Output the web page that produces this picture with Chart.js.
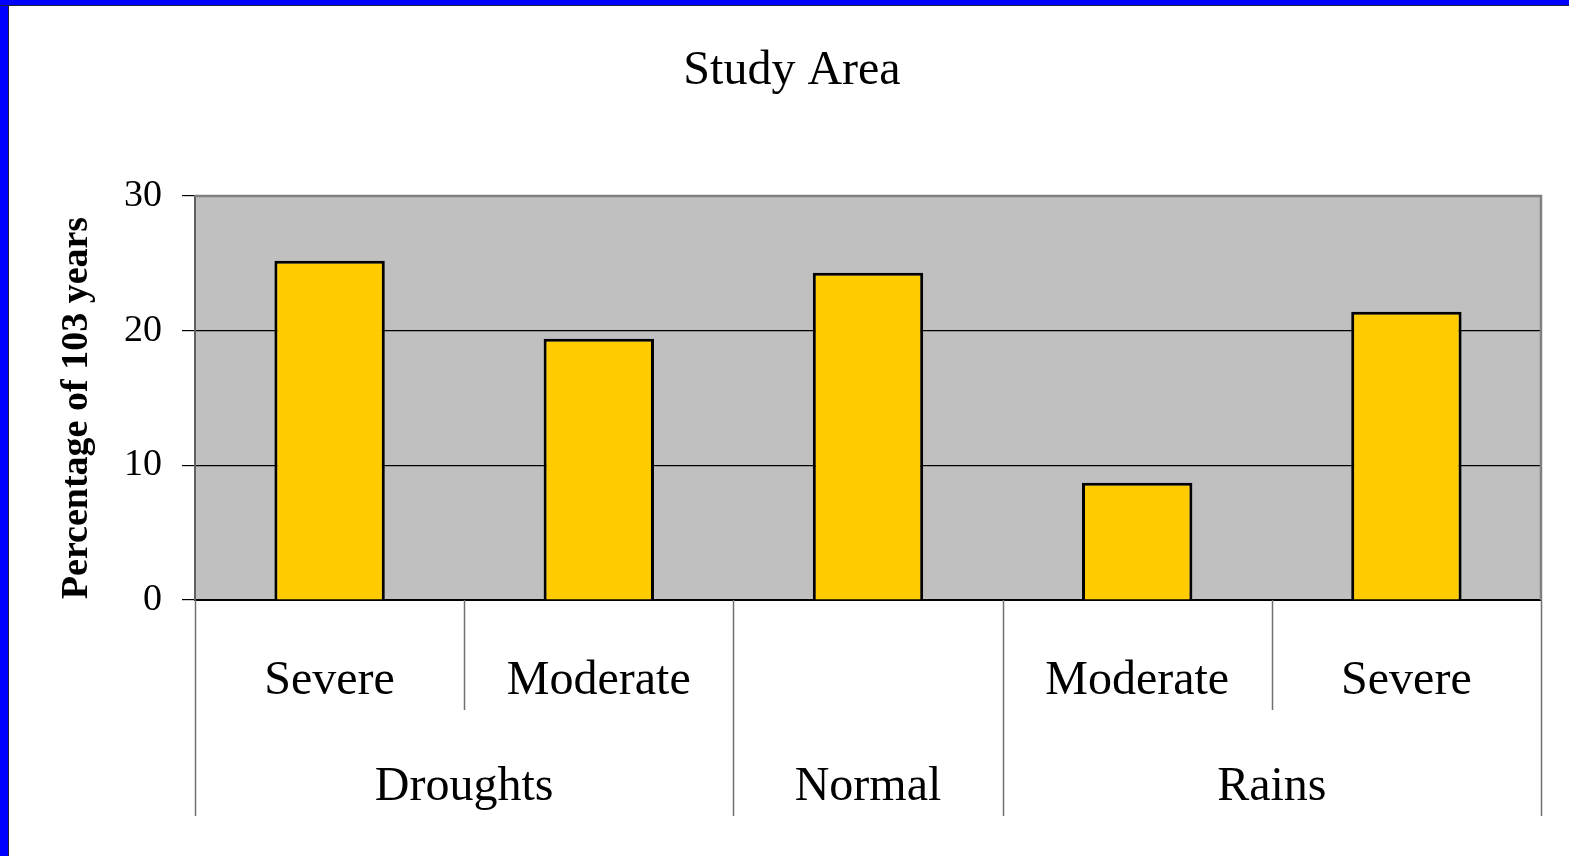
<!DOCTYPE html>
<html>
<head>
<meta charset="utf-8">
<script src="https://cdn.jsdelivr.net/npm/chart.js@4"></script>
<style>
    body { margin: 0; background: #fff; }
    #wrap { position: absolute; left: 0; top: 0; width: 1569px; height: 856px; }
    .edge { position: absolute; background: #0000ff; }
</style>
</head>
<body>
<div id="wrap"><canvas id="chart" width="1569" height="856"></canvas></div>
<div class="edge" style="left:0;top:0;width:8px;height:856px;border-right:1px solid #202040"></div>
<div class="edge" style="left:0;top:0;width:1569px;height:5px;border-bottom:1px solid #202040"></div>
<script>
// sub labels under each bar, and the groups they belong to
const subLabels = ['Severe', 'Moderate', '', 'Moderate', 'Severe'];
const groupNames = ['Droughts', 'Normal', 'Rains'];
const groupSpans = [2, 1, 2];
const percentages = [25.2, 19.4, 24.3, 8.7, 21.4];
const yTicks = [0, 10, 20, 30];

const serif = '"Liberation Serif", "Times New Roman", serif';

const multiLevelAxis = {
    id: 'multiLevelAxis',
    beforeDraw(chart) {
        const c = chart.ctx, a = chart.chartArea;
        c.save();
        c.fillStyle = '#c0c0c0';
        c.fillRect(a.left, a.top, a.right - a.left, a.bottom - a.top);
        c.restore();
    },
    afterDraw(chart) {
        const c = chart.ctx, a = chart.chartArea, x = chart.scales.x;
        c.save();
        // plot border top + right
        c.strokeStyle = '#808080';
        c.lineWidth = 2.5;
        c.beginPath();
        c.moveTo(a.left, a.top);
        c.lineTo(a.right, a.top);
        c.lineTo(a.right, a.bottom);
        c.stroke();

        const step = (a.right - a.left) / subLabels.length;
        c.strokeStyle = '#707070';
        c.lineWidth = 1.5;
        // group boundaries (long lines)
        let idx = 0;
        const bounds = [0];
        groupSpans.forEach(s => { idx += s; bounds.push(idx); });
        for (let i = 0; i <= subLabels.length; i++) {
            const px = Math.round(a.left + i * step) + 0.5;
            const long = bounds.includes(i);
            c.beginPath();
            c.moveTo(px, a.bottom);
            c.lineTo(px, long ? 816 : 710);
            c.stroke();
        }

        c.fillStyle = '#000';
        c.font = '48px ' + serif;
        c.textAlign = 'center';
        c.textBaseline = 'middle';
        subLabels.forEach((lab, i) => {
            if (lab) c.fillText(lab, x.getPixelForValue(i), 681);
        });
        groupNames.forEach((g, j) => {
            const l = a.left + bounds[j] * step, r = a.left + bounds[j + 1] * step;
            c.fillText(g, (l + r) / 2, 787);
        });

        // title
        c.font = '48px ' + serif;
        c.fillText('Study Area', 792, 71);

        // y title
        c.translate(77, 408);
        c.rotate(-Math.PI / 2);
        c.font = 'bold 38px ' + serif;
        c.fillText('Percentage of 103 years', 0, 0);
        c.restore();
    }
};

new Chart(document.getElementById('chart'), {
    type: 'bar',
    data: {
        labels: subLabels,
        datasets: [{
            data: percentages,
            backgroundColor: '#ffcc00',
            borderColor: '#000',
            borderWidth: 3,
            barPercentage: 0.41,
            categoryPercentage: 1
        }]
    },
    options: {
        responsive: false,
        animation: false,
        layout: { padding: { top: 196, right: 28, bottom: 0, left: 0 } },
        plugins: { legend: { display: false }, tooltip: { enabled: false }, title: { display: false } },
        scales: {
            x: {
                ticks: { display: false },
                grid: { display: false },
                border: { color: '#000', width: 2 },
                afterFit(s) { s.height = 256; }
            },
            y: {
                min: 0, max: 30,
                afterBuildTicks(s) { s.ticks = yTicks.map(v => ({ value: v })); },
                ticks: { font: { family: serif, size: 38 }, color: '#000', padding: 20 },
                grid: {
                    color: ctx => (ctx.tick && (ctx.tick.value === 10 || ctx.tick.value === 20 || ctx.tick.value === 0)) ? '#000' : 'rgba(0,0,0,0)',
                    tickColor: '#000',
                    tickLength: 13,
                    lineWidth: 1.2
                },
                border: { color: '#606060', width: 2 },
                afterFit(s) { s.width = 195; }
            }
        }
    },
    plugins: [multiLevelAxis]
});
</script>
</body>
</html>
